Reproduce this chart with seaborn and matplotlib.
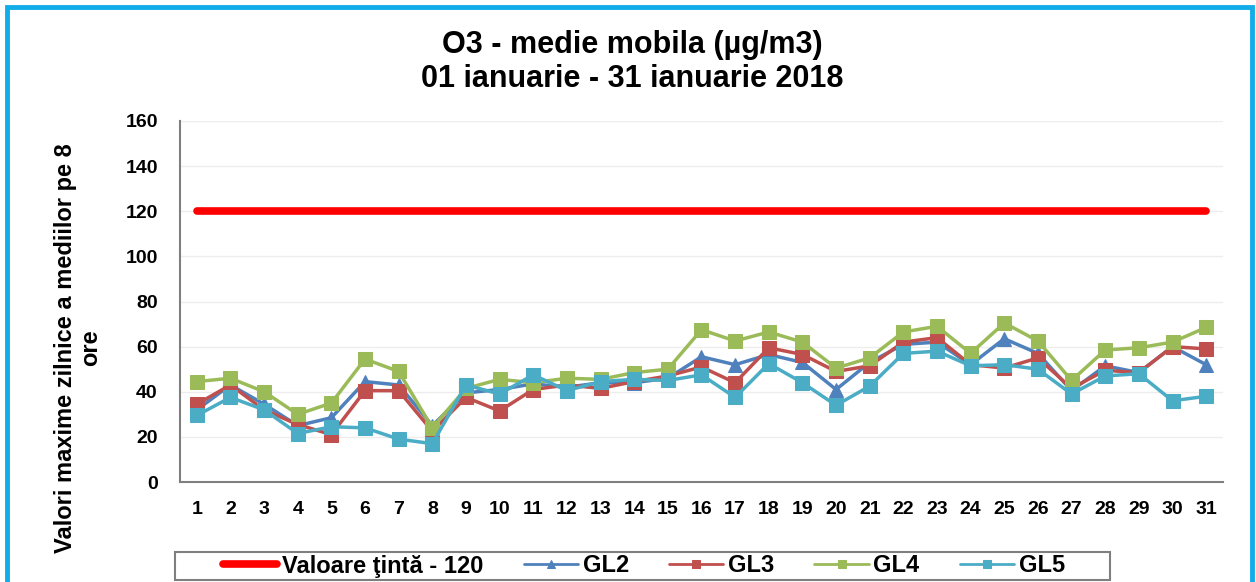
import numpy as np
import pandas as pd
import matplotlib
matplotlib.use("Agg")
import matplotlib.pyplot as plt
from matplotlib.patches import Rectangle
import seaborn as sns

days = list(range(1, 32))
target = [120] * 31
gl2 = [32, 43, 34.5, 25, 28.5, 44.5, 43, 25, 39.5, 41, 43.5, 42, 44, 44, 46,
       55.5, 52, 56.5, 53, 41, 53, 61, 62, 52, 63.5, 57, 40.5, 51.5, 48.5, 60, 52]
gl3 = [34.5, 43, 32, 25.5, 21, 40.5, 40.5, 22.5, 37.5, 31.5, 41, 43, 41.5, 44.5, 47,
       51, 44, 59.5, 56.5, 49, 51.5, 62, 64, 52, 50.5, 55, 41.5, 49.5, 48.5, 60, 59]
gl4 = [44.5, 46, 40, 30, 35, 54.5, 49, 24, 41.5, 45.5, 44, 46, 45.5, 48.5, 50,
       67.5, 62.5, 66.5, 62, 50.5, 55, 66.5, 69, 57, 70.5, 62.5, 45, 58.5, 59.5, 62, 68.5]
gl5 = [29.5, 37.5, 32, 21.5, 24.5, 24, 19, 17, 43, 39, 47.5, 40.5, 44.5, 45.5, 45,
       47.5, 37.5, 52.5, 44, 34, 42.5, 57, 58, 51.5, 52, 50, 39, 47, 48, 36, 38]

series = [
    ("GL2", gl2, "#4F81BD", "^"),
    ("GL3", gl3, "#C0504D", "s"),
    ("GL4", gl4, "#9BBB59", "s"),
    ("GL5", gl5, "#4BACC6", "s"),
]

sns.set_style("white")
plt.rcParams["font.family"] = ["Liberation Sans", "DejaVu Sans"]
plt.rcParams["font.weight"] = "bold"
plt.rcParams["text.color"] = "black"
plt.rcParams["xtick.color"] = "black"
plt.rcParams["ytick.color"] = "black"

fig = plt.figure(figsize=(12.56, 5.82), dpi=100)
ax = fig.add_axes([0.1433, 0.1718, 0.8304, 0.6203])

sns.lineplot(x=days, y=target, ax=ax, color="#FF0000", linewidth=5.5,
             label="Valoare ţintă - 120")
for name, vals, col, mk in series:
    sns.lineplot(x=days, y=vals, ax=ax, color=col, linewidth=2.5, marker=mk,
                 markersize=10, markeredgecolor=col, label=name)

ax.set_xlim(0.5, 31.5)
ax.set_ylim(0, 160)
ax.set_xticks(days)
ax.set_yticks(range(0, 161, 20))
ax.tick_params(axis="both", length=0, labelsize=14)
ax.tick_params(axis="x", pad=14)
ax.tick_params(axis="y", pad=16)
for lbl in ax.get_xticklabels() + ax.get_yticklabels():
    lbl.set_fontweight("bold")
ax.grid(axis="y", color="#EDEDED", linewidth=1)
ax.set_axisbelow(True)
for side in ["top", "right"]:
    ax.spines[side].set_visible(False)
for side in ["left", "bottom"]:
    ax.spines[side].set_color("#7F7F7F")
    ax.spines[side].set_linewidth(1.5)
ax.set_xlabel("")
ax.set_ylabel("")

fig.text(78 / 1256, 1 - 348 / 582, "Valori maxime zilnice a mediilor pe 8\nore",
         rotation=90, ha="center", va="center", fontsize=17, fontweight="bold",
         linespacing=1.1)
fig.text(632 / 1256, 1 - 62 / 582,
         "O3 - medie mobila (µg/m3)\n01 ianuarie - 31 ianuarie 2018",
         ha="center", va="center", fontsize=22, fontweight="bold", linespacing=1.15)

handles, labels = ax.get_legend_handles_labels()
ax.get_legend().remove()
leg = fig.legend(handles, labels, loc="center", ncol=5,
                 bbox_to_anchor=(644 / 1256, 1 - 566 / 582),
                 fontsize=17, frameon=False, handlelength=2.3,
                 handletextpad=0.2, columnspacing=1.7, markerscale=0.6)
for t in leg.get_texts():
    t.set_fontweight("bold")
for h in leg.legend_handles[1:]:
    h.set_linewidth(2)

fig.patches.append(Rectangle((175 / 1256, 1 - 580 / 582), 935 / 1256, 28 / 582,
                             transform=fig.transFigure, fill=False,
                             edgecolor="#7F7F7F", linewidth=1.5))
fig.patches.append(Rectangle((7 / 1256, -0.05), 1245 / 1256, 1 - 7 / 582 + 0.05,
                             transform=fig.transFigure, fill=False,
                             edgecolor="#12ACE8", linewidth=3.5))

fig.savefig("out.png", dpi=100)
